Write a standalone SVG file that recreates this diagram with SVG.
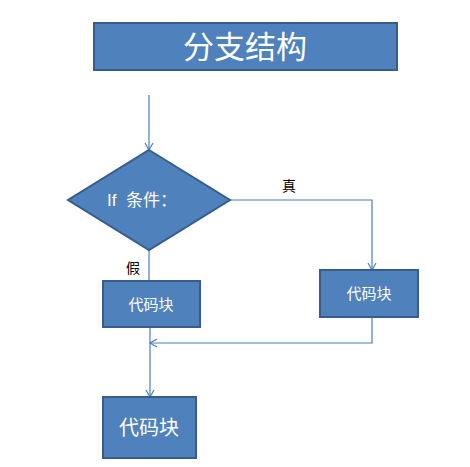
<svg xmlns="http://www.w3.org/2000/svg" width="470" height="467" viewBox="0 0 470 467">
<style>
.n{fill:#4F81BD;stroke:#385D8A;stroke-width:2}
.t{fill:#fff;font-family:"Liberation Sans","Noto Sans CJK SC",sans-serif;text-anchor:middle;dominant-baseline:central}
.l{fill:#000;font-family:"Liberation Sans","Noto Sans CJK SC",sans-serif;font-size:14px;text-anchor:middle;dominant-baseline:central}
.c{fill:none;stroke:#4A7EBB;stroke-width:1.2}
</style>
<defs>
<marker id="a" markerWidth="10" markerHeight="10" refX="8" refY="5" orient="auto" markerUnits="userSpaceOnUse">
<path d="M1,1 L8,5 L1,9" fill="none" stroke="#4A7EBB" stroke-width="1.2"/>
</marker>
</defs>
<rect width="470" height="467" fill="#fff"/>
<g id="connectors">
<path class="c" d="M149,95 V150" marker-end="url(#a)"/>
<path class="c" d="M230,200 H372 V270" marker-end="url(#a)"/>
<path class="c" d="M149,250 V281"/>
<path class="c" d="M372,317 V343 H150" marker-end="url(#a)"/>
<path class="c" d="M150,327 V397" marker-end="url(#a)" stroke-width="1.6"/>
</g>
<g id="title"><rect class="n" x="94" y="23" width="303" height="47"/><text class="t" x="245" y="47" font-size="31">分支结构</text></g>
<g id="cond"><polygon class="n" points="149,150 230,200 149,250 68,200"/><text class="t" x="142" y="200" font-size="17">If&#160;&#160;条件：</text></g>
<g id="block-true"><rect class="n" x="320" y="270" width="98" height="47"/><text class="t" x="369" y="293" font-size="15">代码块</text></g>
<g id="block-false"><rect class="n" x="103" y="281" width="97" height="46"/><text class="t" x="151" y="304" font-size="15">代码块</text></g>
<g id="block-end"><rect class="n" x="103" y="397" width="93" height="61"/><text class="t" x="149" y="428" font-size="20">代码块</text></g>
<text class="l" x="289" y="186">真</text>
<text class="l" x="133" y="268">假</text>
</svg>
